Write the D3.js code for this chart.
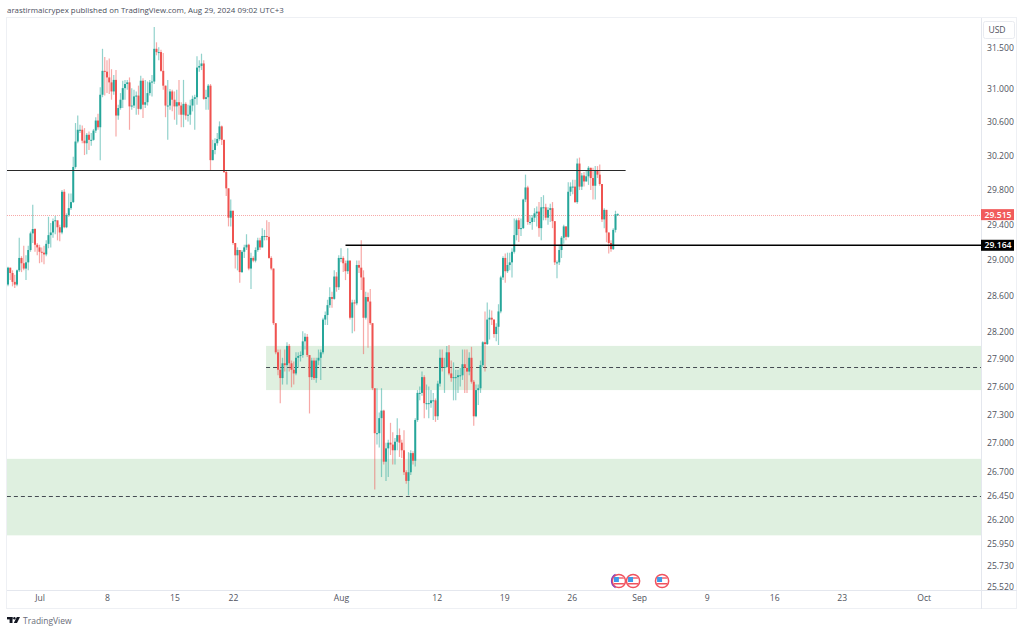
<!DOCTYPE html>
<html>
<head>
<meta charset="utf-8">
<script src="https://cdn.jsdelivr.net/npm/d3@7"></script>
<style>
  html, body { margin: 0; padding: 0; background: #fff; }
  svg { display: block; }
  text { font-family: "Open Sans", sans-serif; }
</style>
</head>
<body>
<div id="chart"></div>
<script>
// 4h bars. A bar opens where the one before it closed
const firstOpen = 28.72
const closes = [
  28.91,28.85,28.75,28.72,28.88,29.02,28.96,28.90,28.97,29.11,29.30,29.35,29.17,29.14,29.09,29.08,29.06,29.18,29.28,29.31,
  29.44,29.45,29.37,29.31,29.78,29.37,29.51,29.59,29.66,30.07,30.37,30.51,30.51,30.38,30.35,30.45,30.39,30.39,30.50,30.62,
  30.54,30.93,31.22,31.21,31.14,31.08,30.97,31.11,30.68,30.77,30.87,31.01,31.06,31.08,30.79,30.80,30.91,30.92,30.76,31.10,
  30.81,30.84,30.95,31.08,31.09,31.49,31.45,31.45,31.22,31.04,30.80,30.80,30.97,30.87,30.79,30.84,30.80,30.69,30.82,30.68,
  30.69,30.80,30.88,30.90,31.26,31.28,31.31,30.88,30.90,31.04,30.15,30.27,30.35,30.40,30.55,30.39,30.01,29.82,29.48,29.56,
  29.19,29.05,29.11,28.86,29.09,29.14,29.17,28.90,29.02,28.99,29.11,29.22,29.14,29.27,29.27,29.26,29.02,28.90,28.29,27.97,
  27.78,27.69,27.85,27.83,28.04,27.85,27.78,27.74,27.91,27.93,27.94,28.09,28.14,27.94,27.70,27.88,27.69,27.88,27.91,27.97,28.33,
  28.38,28.49,28.58,28.56,28.81,28.69,29.02,29.02,28.96,28.87,28.99,28.35,28.52,28.51,28.94,28.91,28.80,28.35,28.58,28.53,
  28.29,27.58,27.10,27.10,27.26,27.34,26.80,26.94,27.00,26.98,26.92,27.01,27.08,27.00,26.92,26.69,26.60,26.69,26.89,26.81,
  27.24,27.53,27.53,27.70,27.42,27.42,27.42,27.45,27.45,27.28,27.63,27.91,27.81,27.81,27.97,27.74,27.69,27.70,27.70,27.72,27.72,
  27.84,27.80,27.76,27.91,27.65,27.28,27.56,27.58,27.83,28.08,28.06,28.33,28.35,28.33,28.17,28.25,28.42,28.80,29.02,28.87,
  28.94,28.97,29.09,29.28,29.45,29.35,29.36,29.69,29.83,29.43,29.43,29.48,29.53,29.55,29.36,29.60,29.60,29.48,29.57,29.59,
  29.44,28.97,28.97,29.11,29.25,29.38,29.26,29.78,29.84,29.84,29.66,30.11,29.84,29.97,29.90,29.96,30.06,29.94,29.85,30.03,
  29.98,29.87,29.46,29.57,29.31,29.19,29.12,29.34,29.52,29.52
]
const highs = [
  28.92,28.91,28.88,28.83,28.89,29.25,29.04,29.16,29.05,29.16,29.32,29.63,29.36,29.19,29.17,29.14,29.16,29.22,29.49,29.42,
  29.47,29.50,29.43,29.40,29.80,29.81,29.53,29.76,29.76,30.19,30.59,30.68,30.57,30.56,30.53,30.47,30.49,30.47,30.52,30.66,
  30.70,31.02,31.49,31.39,31.35,31.37,31.24,31.17,31.23,30.81,30.95,31.10,31.11,31.11,31.14,31.01,30.99,30.97,31.04,31.16,
  31.13,31.11,31.09,31.11,31.17,31.76,31.57,31.51,31.48,31.44,31.04,31.11,31.00,30.99,30.97,30.99,31.11,30.84,31.11,30.84,
  30.81,30.87,30.92,30.93,31.40,31.35,31.43,31.35,30.99,31.06,31.06,30.39,30.41,30.47,30.61,30.56,30.39,30.03,29.82,29.69,
  29.56,29.19,29.14,29.11,29.11,29.17,29.29,29.18,29.08,29.04,29.14,29.25,29.25,29.36,29.34,29.45,29.43,29.04,28.90,28.29,
  28.00,28.00,27.91,28.00,28.08,28.06,27.88,27.87,27.97,27.97,27.98,28.20,28.18,28.17,27.94,27.91,27.91,27.91,28.00,28.00,28.35,
  28.42,28.55,28.69,28.64,28.88,28.86,29.05,29.13,29.04,28.99,29.13,28.99,28.55,28.55,28.99,28.99,29.22,28.88,28.64,28.63,
  28.67,28.29,27.58,27.58,27.32,27.58,27.35,27.00,27.03,27.21,27.11,27.05,27.26,27.15,27.03,27.13,26.71,26.90,26.92,26.91,
  27.26,27.56,27.60,27.76,27.72,27.62,27.60,27.56,27.53,27.47,27.66,28.00,28.00,27.91,28.04,28.05,27.88,27.86,27.78,27.78,27.80,
  28.00,28.00,28.00,27.97,28.03,27.67,27.62,27.62,27.88,28.09,28.42,28.52,28.44,28.43,28.33,28.29,28.50,28.82,29.04,29.07,
  29.08,29.08,29.13,29.47,29.47,29.48,29.47,29.70,29.98,29.85,29.51,29.51,29.59,29.61,29.66,29.72,29.74,29.64,29.60,29.64,
  29.66,29.44,28.99,29.17,29.27,29.40,29.38,29.89,29.89,29.92,29.92,30.17,30.18,30.00,30.01,30.03,30.08,30.06,30.06,30.08,
  30.08,30.10,29.87,29.59,29.57,29.31,29.22,29.36,29.56,29.53
]
const lows = [
  28.70,28.77,28.70,28.68,28.70,28.86,28.86,28.88,28.77,28.88,29.09,29.19,29.09,29.05,28.96,28.97,28.95,29.04,29.13,29.14,
  29.25,29.29,29.22,29.21,29.29,29.36,29.36,29.49,29.57,29.65,30.05,30.35,30.47,30.35,30.21,30.22,30.27,30.32,30.38,30.47,
  30.51,30.15,30.90,30.92,30.95,30.94,30.87,30.93,30.43,30.63,30.75,30.77,30.87,30.99,30.51,30.75,30.77,30.69,30.69,30.75,
  30.65,30.77,30.80,30.92,30.91,31.06,31.41,31.35,31.21,30.99,30.66,30.39,30.75,30.73,30.63,30.57,30.69,30.54,30.54,30.63,
  30.61,30.57,30.73,30.51,30.81,31.21,31.23,30.87,30.75,30.75,30.03,30.15,30.22,30.32,30.38,30.33,30.00,29.73,29.38,29.38,
  29.17,28.90,28.88,28.74,28.85,29.02,29.11,28.88,28.67,28.97,28.97,29.09,29.11,29.14,29.22,29.22,29.01,28.88,28.27,27.95,
  27.72,27.42,27.62,27.76,27.62,27.76,27.59,27.62,27.72,27.80,27.87,27.91,28.00,27.92,27.31,27.67,27.67,27.64,27.83,27.67,27.95,
  28.27,28.27,28.46,28.46,28.55,28.64,28.66,28.97,28.86,28.77,28.84,28.33,28.18,28.20,28.49,28.85,28.66,27.95,28.33,28.02,
  28.27,27.56,26.51,26.98,26.95,26.64,26.77,26.60,26.64,26.87,26.77,26.77,26.92,26.85,26.84,26.66,26.57,26.45,26.66,26.77,
  26.75,27.22,27.45,27.50,27.26,27.35,27.26,27.37,27.24,27.22,27.24,27.60,27.76,27.53,27.80,27.72,27.65,27.45,27.45,27.53,27.60,
  27.67,27.53,27.53,27.72,27.63,27.18,27.27,27.40,27.53,27.81,27.76,28.05,28.11,28.27,28.13,28.09,28.05,28.40,28.77,28.74,
  28.85,28.88,28.80,29.07,29.22,29.20,29.27,29.35,29.66,29.40,29.40,29.34,29.43,29.38,29.26,29.22,29.45,29.45,29.40,29.43,
  29.36,28.94,28.79,28.94,29.02,29.18,29.22,29.25,29.73,29.75,29.65,29.64,29.80,29.80,29.84,29.90,29.86,29.80,29.69,29.69,
  29.94,29.85,29.43,29.36,29.20,29.07,29.09,29.11,29.31,29.50
]

const tickPrices = [31.5,31,30.6,30.2,29.8,29.4,29,28.6,28.2,27.9,27.6,27.3,27,26.7,26.45,26.2,25.95,25.73,25.52]
const tickBars = [14,44,74,100,148,190.5,220.5,250.5,280.5,310.5,340.5,370.5,407]
const tickLabels = ['Jul','8','15','22','Aug','12','19','26','Sep','9','16','23','Oct']
const eventBars = [271.5,277.8,290.7]

const lastPrice = 29.515
const supportPrice = 29.164
const resistancePrice = 30.03
const resistanceEndBar = 274.5
const supportStartBar = 150
const zoneTops = [28.04,26.83]
const zoneBottoms = [27.56,26.04]
const zoneMids = [27.81,26.44]
const zoneStartBars = [114.7,-0.5]

const width = 1024, height = 633
const margin = {top: 18, right: 1017, bottom: 590, left: 7}
const axisLeftEdge = 981, frameBottom = 609

const teal = '#26a69a', red = '#ef5350'

const svg = d3.select('#chart').append('svg')
  .attr('width', width)
  .attr('height', height)

const x = d3.scaleLinear().domain([0, 300]).range([8, 683])
const y = d3.scaleLog().domain([31.5, 25.52]).range([48, 587])

const opens = closes.map((c, i) => i ? closes[i - 1] : firstOpen)
const bars = closes.map((c, i) => ({i, o: opens[i], h: highs[i], l: lows[i], c}))

svg.append('text')
  .attr('x', 7).attr('y', 12.5)
  .attr('font-size', 7.9)
  .attr('fill', '#4a4f5c')
  .text('arastirmaicrypex published on TradingView.com, Aug 29, 2024 09:02 UTC+3')

// zones go under the candles
const zones = zoneTops.map((t, i) => ({t, b: zoneBottoms[i], m: zoneMids[i], s: zoneStartBars[i]}))
svg.append('g').selectAll('rect').data(zones).join('rect')
  .attr('x', d => x(d.s))
  .attr('y', d => y(d.t))
  .attr('width', d => axisLeftEdge - x(d.s))
  .attr('height', d => y(d.b) - y(d.t))
  .attr('fill', '#dff0e0')
svg.append('g').selectAll('line').data(zones).join('line')
  .attr('x1', d => x(d.s))
  .attr('x2', axisLeftEdge)
  .attr('y1', d => Math.round(y(d.m)) + .5)
  .attr('y2', d => Math.round(y(d.m)) + .5)
  .attr('stroke', '#2a2e39')
  .attr('stroke-opacity', .85)
  .attr('stroke-dasharray', '4 3')

svg.append('line')
  .attr('x1', margin.left).attr('x2', axisLeftEdge)
  .attr('y1', Math.round(y(lastPrice)) + .5).attr('y2', Math.round(y(lastPrice)) + .5)
  .attr('stroke', '#f7a9a7')
  .attr('stroke-dasharray', '1 1')

// candles
const candles = svg.append('g')
candles.selectAll('line').data(bars).join('line')
  .attr('x1', d => x(d.i)).attr('x2', d => x(d.i))
  .attr('y1', d => y(d.h)).attr('y2', d => y(d.l))
  .attr('stroke', d => d.c >= d.o ? teal : red)
  .attr('stroke-width', 1.2)
  .attr('stroke-opacity', .5)
candles.selectAll('rect').data(bars).join('rect')
  .attr('x', d => x(d.i) - 1)
  .attr('width', 2)
  .attr('y', d => y(Math.max(d.o, d.c)))
  .attr('height', d => Math.max(1, Math.abs(y(d.o) - y(d.c))))
  .attr('fill', d => d.c >= d.o ? teal : red)

svg.append('line')
  .attr('x1', margin.left).attr('x2', x(resistanceEndBar))
  .attr('y1', Math.round(y(resistancePrice)) + .5).attr('y2', Math.round(y(resistancePrice)) + .5)
  .attr('stroke', '#2a2a2a')
svg.append('line')
  .attr('x1', x(supportStartBar)).attr('x2', axisLeftEdge)
  .attr('y1', y(supportPrice)).attr('y2', y(supportPrice))
  .attr('stroke', '#000')
  .attr('stroke-width', 1.6)

// event flags above the time axis
const flags = svg.append('g').selectAll('g').data(eventBars).join('g')
  .attr('transform', d => `translate(${x(d)}, 581)`)
flags.append('circle').attr('r', 6.6).attr('fill', '#fff').attr('stroke', '#f0525f').attr('stroke-width', 1.5)
flags.append('rect').attr('x', -5).attr('y', -4).attr('width', 10).attr('height', 2).attr('fill', '#f58a94')
flags.append('rect').attr('x', -5).attr('y', 2).attr('width', 10).attr('height', 1.5).attr('fill', '#f0525f')
flags.append('rect').attr('x', -5).attr('y', -4).attr('width', 5).attr('height', 5).attr('fill', '#3d9be9')
svg.append('path')
  .attr('d', d3.arc()({innerRadius: 6.8, outerRadius: 8, startAngle: Math.PI * 1.15, endAngle: Math.PI * 1.85}))
  .attr('transform', `translate(${x(eventBars[0])}, 581)`)
  .attr('fill', '#8e3fb5')

// frame, axes
svg.append('rect').attr('x', margin.left - .5).attr('y', frameBottom - 18).attr('width', margin.right - margin.left)
  .attr('height', 18).attr('fill', '#fff')
svg.append('rect')
  .attr('x', margin.left - .5).attr('y', margin.top - .5)
  .attr('width', margin.right - margin.left).attr('height', frameBottom - margin.top)
  .attr('fill', 'none').attr('stroke', '#eef0f4')
svg.append('line').attr('x1', axisLeftEdge + .5).attr('x2', axisLeftEdge + .5)
  .attr('y1', margin.top).attr('y2', frameBottom).attr('stroke', '#e4e7ee')
svg.append('line').attr('x1', margin.left).attr('x2', margin.right)
  .attr('y1', margin.bottom + .5).attr('y2', margin.bottom + .5).attr('stroke', '#e4e7ee')

const yAxis = d3.axisRight(y).tickValues(tickPrices).tickFormat(d3.format('.3f')).tickSize(0).tickPadding(6)
const yAxisG = svg.append('g')
  .attr('transform', `translate(${axisLeftEdge}, 0)`)
  .call(yAxis)
yAxisG.select('.domain').remove()
yAxisG.selectAll('text').attr('font-size', 8.6).attr('fill', '#50535e').attr('font-family', '"Open Sans", sans-serif')

// the lowest label is cut by the time axis
svg.append('rect').attr('x', axisLeftEdge + 1).attr('y', margin.bottom + 1)
  .attr('width', margin.right - axisLeftEdge - 2).attr('height', frameBottom - margin.bottom - 2).attr('fill', '#fff')

const xAxis = d3.axisBottom(x).tickValues(tickBars).tickFormat((d, i) => tickLabels[i]).tickSize(0).tickPadding(5)
const xAxisG = svg.append('g')
  .attr('transform', `translate(0, ${margin.bottom})`)
  .call(xAxis)
xAxisG.select('.domain').remove()
xAxisG.selectAll('text').attr('font-size', 8.6).attr('fill', '#50535e').attr('font-family', '"Open Sans", sans-serif')

svg.append('rect').attr('x', 983.5).attr('y', 21.5).attr('width', 31).attr('height', 17).attr('rx', 2)
  .attr('fill', '#fff').attr('stroke', '#e9ebf0')
svg.append('text').attr('x', 997).attr('y', 33).attr('text-anchor', 'middle')
  .attr('font-size', 8.6).attr('fill', '#50535e').text('USD')

// price labels on the axis
const priceTags = [{p: lastPrice, bg: '#f15b5b', w: 33}, {p: supportPrice, bg: '#000', w: 33}]
const tags = svg.append('g').selectAll('g').data(priceTags).join('g')
  .attr('transform', d => `translate(${axisLeftEdge}, ${y(d.p)})`)
tags.append('rect').attr('y', -5.5).attr('height', 11).attr('width', d => d.w).attr('fill', d => d.bg)
tags.append('text').attr('x', 17).attr('y', 3).attr('text-anchor', 'middle')
  .attr('font-size', 8.6).attr('font-weight', 600).attr('fill', '#fff').text(d => d3.format('.3f')(d.p))

// logo + wordmark
const logo = svg.append('g').attr('fill', '#131722').attr('transform', 'translate(7, 617)')
logo.append('rect').attr('width', 5.5).attr('height', 2.4)
logo.append('rect').attr('x', 2.6).attr('width', 2.9).attr('height', 6)
logo.append('circle').attr('cx', 7.4).attr('cy', 1.2).attr('r', 1.2)
logo.append('path').attr('d', 'M9.8 0H13L10 6H6.8Z')
svg.append('text').attr('x', 23).attr('y', 623.5)
  .attr('font-size', 8.5).attr('fill', '#6a6d78').text('TradingView')
</script>
</body>
</html>
